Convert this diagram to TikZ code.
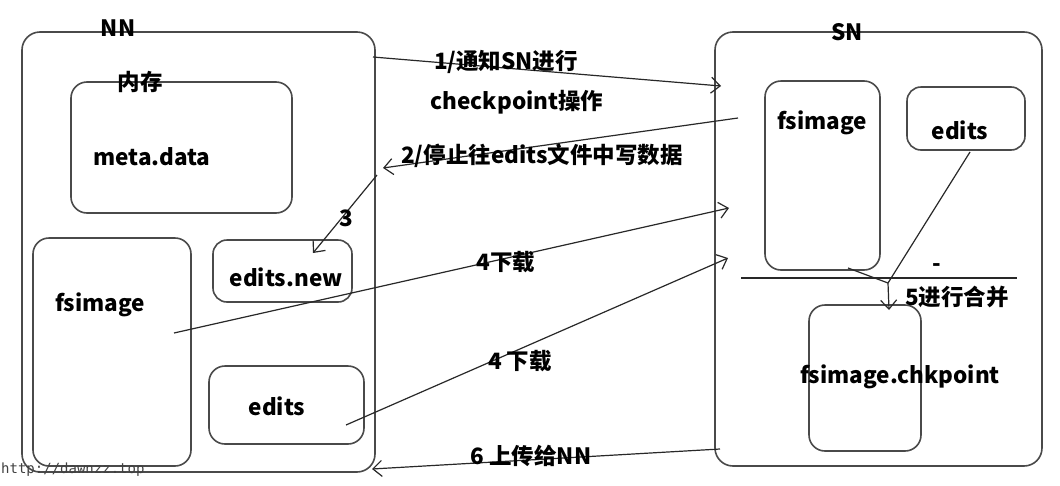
\documentclass[tikz,border=0pt]{standalone}
\usepackage{fontspec}
\setmainfont{Noto Sans CJK SC}
\newfontfamily\wmfont{DejaVu Sans Mono}
\usetikzlibrary{arrows.meta}
\definecolor{boxgray}{HTML}{4A4A4A}
\definecolor{linegray}{HTML}{282828}
\tikzset{
  box/.style={draw=boxgray, line width=1.6pt, rounded corners=18pt, inner sep=0pt, outer sep=0pt},
  sbox/.style={box, rounded corners=16pt},
  lbl/.style={font=\bfseries\fontsize{22.5}{24}\selectfont, inner sep=0pt, text=black},
  conn/.style={draw=linegray, line width=1.2pt},
  arr/.style={conn, -{Straight Barb[length=9pt,width=16pt,line width=1.2pt]}},
  wm/.style={font=\wmfont\fontsize{14}{15}\selectfont, text=black!75, inner sep=0pt}
}
\begin{document}
\begin{tikzpicture}[x=1pt,y=-1pt]
\useasboundingbox (0,0) rectangle (1060,485);
\fill[white] (0,0) rectangle (1060,485);
% NN side
\node[box, minimum width=353pt, minimum height=440pt] (nn) at (198.5,252) {};
\node[sbox, minimum width=221pt, minimum height=131pt] (meta) at (181.5,147.5) {};
\node[sbox, minimum width=158pt, minimum height=228pt] (fsnn) at (112,352) {};
\node[sbox, rounded corners=14pt, minimum width=139pt, minimum height=62pt] (enew) at (282.5,271) {};
\node[sbox, minimum width=155pt, minimum height=78pt] (ednn) at (286.5,405) {};
% SN side
\node[box, minimum width=327pt, minimum height=434pt] (sn) at (878.5,249) {};
\node[sbox, minimum width=115pt, minimum height=189pt] (fssn) at (822.5,175.5) {};
\node[sbox, rounded corners=14pt, minimum width=118pt, minimum height=63pt] (edsn) at (966,118.5) {};
\node[sbox, minimum width=112pt, minimum height=146pt] (chk) at (865,378) {};
% separator line in SN
\coordinate (sepL) at (741,278);
\coordinate (sepR) at (1017,278);
\draw[conn] (sepL) -- (sepR);
% connector end points
\coordinate (a1s) at (373,57);
\coordinate (a1e) at (721,86);
\coordinate (a2s) at (738,118);
\coordinate (a2e) at (383,168);
\coordinate (a3s) at (377,175);
\coordinate (a3e) at (313,253);
\coordinate (a4s) at (174,333);
\coordinate (a4e) at (729,208);
\coordinate (a5s) at (346,425);
\coordinate (a5e) at (728,258);
\coordinate (a6s) at (720,449);
\coordinate (a6e) at (372,469);
\coordinate (mfs) at (848,268);
\coordinate (med) at (970,152);
\coordinate (mj) at (888,283);
\coordinate (mend) at (889,310);
% connectors
\draw[arr] (a1s) -- (a1e);
\draw[arr] (a2s) -- (a2e);
\draw[arr] (a3s) -- (a3e);
\draw[arr] (a4s) -- (a4e);
\draw[arr] (a5s) -- (a5e);
\draw[arr] (a6s) -- (a6e);
\draw[conn] (mfs) -- (mj);
\draw[conn] (med) -- (mj);
\draw[arr] (mj) -- (mend);
% texts
\node[lbl] (tnn) at (118,28) {NN};
\node[lbl] (tmem) at (140,82) {内存};
\node[lbl] (tmeta) at (152,157) {meta.data};
\node[lbl] (tfsnn) at (100,305) {fsimage};
\node[lbl] (tenew) at (286,277) {edits.new};
\node[lbl] (tednn) at (277,406) {edits};
\node[lbl] (tsn) at (847,32) {SN};
\node[lbl] (tfssn) at (822,123) {fsimage};
\node[lbl] (tedsn) at (960,130) {edits};
\node[lbl] (tdash) at (937,268) {-};
\node[lbl] (tmerge) at (957,297) {5进行合并};
\node[lbl] (tchk) at (900,377) {fsimage.chkpoint};
\node[lbl] (t1a) at (506,62) {1/通知SN进行};
\node[lbl] (t1b) at (517,102) {checkpoint操作};
\node[lbl] (t2) at (542,156) {2/停止往edits文件中写数据};
\node[lbl] (t3) at (346,218) {3};
\node[lbl] (t4a) at (506,262) {4下载};
\node[lbl] (t4b) at (520,361) {4 下载};
\node[lbl] (t6) at (531,456) {6 上传给NN};
\node[wm, anchor=west] (wmk) at (1,470) {http://dawnzz.top};
\end{tikzpicture}
\end{document}
